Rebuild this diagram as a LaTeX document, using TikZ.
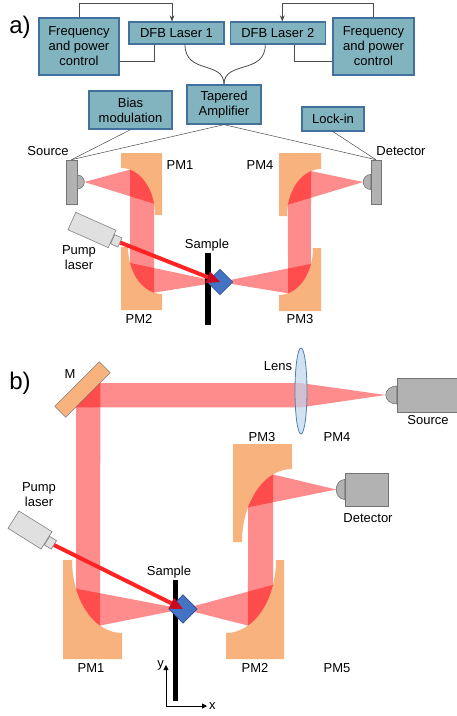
\documentclass[tikz,border=0pt]{standalone}
\usepackage{fontspec}
\setmainfont{Liberation Sans}
\usetikzlibrary{arrows.meta,positioning,calc,shapes.geometric}

\definecolor{boxfill}{RGB}{130,180,192}
\definecolor{boxline}{RGB}{65,113,156}
\definecolor{pmorange}{RGB}{248,178,126}
\definecolor{pumpred}{RGB}{255,35,35}
\definecolor{pumphead}{RGB}{200,10,35}
\definecolor{samplefill}{RGB}{68,114,196}
\definecolor{sampleline}{RGB}{47,82,143}
\definecolor{lensfill}{RGB}{189,215,238}
\definecolor{lensline}{RGB}{80,125,180}

\newcommand{\txtsize}{\fontsize{13}{15}\selectfont}
\newcommand{\bigsize}{\fontsize{24}{28}\selectfont}
% off-axis paraboloid: width, height, x radius, y radius of the cut
\newcommand{\parmirror}[4]{%
  \fill[paraboloid] (0,-#2) -- (#1,-#2) -- (#1,0) -- (#3,0)
    arc[start angle=0, end angle=-90, x radius=#3, y radius=#4] -- cycle;}

\tikzset{
  ctrl/.style       = {rectangle, draw=boxline, fill=boxfill, line width=1.3pt,
                       align=center, inner sep=0pt},
  wire/.style       = {draw=black!70, line width=0.8pt},
  feed/.style       = {wire, -{Stealth[length=6pt,width=5pt]}},
  paraboloid/.style = {fill=pmorange},
  flatmirror/.style = {rectangle, fill=pmorange, draw=black!50, line width=0.6pt},
  devbox/.style     = {rectangle, fill=black!30, draw=black!55, line width=0.6pt},
  pumpbody/.style   = {rectangle, fill=black!12, draw=black!50, line width=0.6pt},
  pumpbeam/.style   = {draw=pumpred, line width=4pt,
                       -{Triangle[length=13pt,width=12pt,line width=0.5pt,color=pumphead]}},
  thzbeam/.style    = {fill=red, fill opacity=0.45},
  holder/.style     = {rectangle, fill=black, inner sep=0pt},
  samplebox/.style  = {rectangle, rotate=45, fill=samplefill, draw=sampleline,
                       line width=0.6pt, inner sep=0pt},
  lensbody/.style   = {ellipse, draw=lensline, fill=lensfill, fill opacity=0.7,
                       line width=0.8pt, inner sep=0pt},
  axisarrow/.style  = {draw=black, line width=0.9pt, -{Triangle[length=5pt,width=5pt]}},
  lbl/.style        = {inner sep=1pt, align=center},
  ellA/.style       = {x radius=34, y radius=47},
  ellB/.style       = {x radius=50, y radius=73},
}

\begin{document}
\begin{tikzpicture}[x=1pt, y=-1pt, font=\txtsize]
    \useasboundingbox (0,0) rectangle (456,716);

    % ================= a) =================
    \node[lbl, font=\bigsize] (tagA) at (20,27) {a)};

    % --- lasers and control
    \node[ctrl, minimum width=80pt, minimum height=57pt] (freqL) at (79,46.5)
      {Frequency\\and power\\control};
    \node[ctrl, minimum width=95pt, minimum height=22pt] (dfb1) at (176.5,33) {DFB Laser 1};
    \node[ctrl, minimum width=95pt, minimum height=22pt, right=5pt of dfb1] (dfb2) {DFB Laser 2};
    \node[ctrl, minimum width=81pt, minimum height=57pt] (freqR) at (373.5,46.5)
      {Frequency\\and power\\control};
    \node[ctrl, minimum width=74pt, minimum height=39pt] (amp) at (224,104.5)
      {Tapered\\Amplifier};
    \node[ctrl, minimum width=83pt, minimum height=38pt] (bias) at (130.5,110)
      {Bias\\modulation};
    \node[ctrl, minimum width=62pt, minimum height=24pt] (lockin) at (333,119) {Lock-in};

    \draw[feed] (freqL.north) -- ++(0,-14) -| ([xshift=-4.5pt]dfb1.north);
    \draw[feed] (freqR.north) -- ++(0,-14) -| ([xshift=4.5pt]dfb2.north);
    \draw[wire] ([yshift=-14.5pt]freqL.east) -| ([xshift=-22.5pt]dfb1.south);
    \draw[wire] ([yshift=-14.5pt]freqR.west) -| ([xshift=16.5pt]dfb2.south);
    % fibres into the amplifier
    \draw[wire] ([xshift=8.5pt]dfb1.south) .. controls +(0,30) and +(0,-24) .. (amp.north);
    \draw[wire] ([xshift=-12.5pt]dfb2.south) .. controls +(0,30) and +(0,-24) .. (amp.north);

    % --- emitter and receiver
    \node[devbox, minimum width=11pt, minimum height=44pt] (srcA) at (71.5,182) {};
    \draw[devbox] (srcA.east) ++(0,-7) arc[start angle=-90, end angle=90, radius=7] -- cycle;
    \coordinate (srcAtip) at ([xshift=7pt]srcA.east);
    \node[devbox, minimum width=10pt, minimum height=44pt] (detA) at (376,182) {};
    \draw[devbox] (detA.west) ++(0,-7.5) arc[start angle=-90, end angle=-270, radius=7.5] -- cycle;
    \coordinate (detAtip) at ([xshift=-7.5pt]detA.west);

    \draw[wire, line width=0.5pt] (amp.south) -- (srcA.north);
    \draw[wire, line width=0.5pt] (amp.south) -- (detA.north);
    \draw[wire, line width=0.5pt] (bias.south) -- (srcA.north);
    \draw[wire, line width=0.5pt] (lockin.south) -- (detA.north);

    % --- paraboloids
    \coordinate (pm1a) at (121,215);
    \coordinate (pm2a) at (162,247);
    \coordinate (pm3a) at (279,248);
    \coordinate (pm4a) at (321,216);
    \begin{scope}[shift={(pm1a)}]            \parmirror{41}{62}{34}{47} \end{scope}
    \begin{scope}[shift={(pm2a)}, rotate=180] \parmirror{41}{63}{34}{47} \end{scope}
    \begin{scope}[shift={(pm3a)}, yscale=-1] \parmirror{42}{63}{34}{47} \end{scope}
    \begin{scope}[shift={(pm4a)}, xscale=-1] \parmirror{42}{63}{34}{47} \end{scope}

    % --- THz beam
    \coordinate (focA) at (220,282);
    \fill[thzbeam] (srcAtip) -- ($(pm1a)+(-74.65:34 and 47)$)
      arc[ellA, start angle=-74.65, end angle=-13.9] -- cycle;
    \fill[thzbeam] ($(pm1a)+(-74.65:34 and 47)$) arc[ellA, start angle=-74.65, end angle=-13.9]
      -- ($(pm2a)+(103.6:34 and 47)$) arc[ellA, start angle=103.6, end angle=160.2] -- cycle;
    \fill[thzbeam] ($(pm2a)+(103.6:34 and 47)$) arc[ellA, start angle=103.6, end angle=160.2]
      -- (focA) -- cycle;
    \fill[thzbeam] (focA) -- ($(pm3a)+(74.65:34 and 47)$)
      arc[ellA, start angle=74.65, end angle=19.8] -- cycle;
    \fill[thzbeam] ($(pm3a)+(74.65:34 and 47)$) arc[ellA, start angle=74.65, end angle=19.8]
      -- ($(pm4a)+(252.9:34 and 47)$) arc[ellA, start angle=252.9, end angle=193.9] -- cycle;
    \fill[thzbeam] ($(pm4a)+(252.9:34 and 47)$) arc[ellA, start angle=252.9, end angle=193.9]
      -- (detAtip) -- cycle;

    % --- sample and pump
    \node[holder, minimum width=5.5pt, minimum height=72pt] (barA) at (208,289) {};
    \node[samplebox, minimum size=18pt] (sampA) at (focA) {};
    \node[pumpbody, rotate=-24, minimum width=44pt, minimum height=19pt] (pumpA) at (92,230) {};
    \node[pumpbody, rotate=-24, minimum width=8pt, minimum height=10pt, anchor=west] (nozA)
      at (pumpA.east) {};
    \draw[pumpbeam] (nozA.east) -- (sampA.center);

    % --- labels
    \node[lbl] (lsrcA) at (48,151) {Source};
    \node[lbl] (ldetA) at (401,151) {Detector};
    \node[lbl] (lpm1a) at (180,165) {PM1};
    \node[lbl] (lpm4a) at (260,165) {PM4};
    \node[lbl] (lpm2a) at (139,319) {PM2};
    \node[lbl] (lpm3a) at (300,319) {PM3};
    \node[lbl] (lsamA) at (207,245) {Sample};
    \node[lbl] (lpumpA) at (79,258) {Pump\\laser};

    % ================= b) =================
    \node[lbl, font=\bigsize] (tagB) at (20,383) {b)};

    % --- folding mirror and lens
    \node[flatmirror, rotate=45, minimum width=63pt, minimum height=15.6pt] (mirM) at (82.5,389.5) {};
    \coordinate (mA) at ($(mirM.south west)!0.77!(mirM.south east)$);
    \coordinate (mB) at ($(mirM.south west)!0.23!(mirM.south east)$);

    \node[devbox, minimum width=65pt, minimum height=34pt] (srcB) at (429.5,395) {};
    \draw[devbox] (srcB.west) ++(0,-9) arc[start angle=-90, end angle=-270, x radius=11, y radius=9] -- cycle;
    \coordinate (srcBtip) at ([xshift=-11pt]srcB.west);
    \node[devbox, minimum width=43pt, minimum height=33pt] (detB) at (366.5,489.5) {};
    \draw[devbox] (detB.west) ++(0,-10) arc[start angle=-90, end angle=-270, x radius=8.5, y radius=10] -- cycle;
    \coordinate (detBtip) at ([xshift=-8.5pt]detB.west);

    % --- paraboloids
    \coordinate (pm1b) at (122,560);
    \coordinate (pm2b) at (226,560);
    \coordinate (pm3b) at (292,542);
    \begin{scope}[shift={(pm1b)}, rotate=180] \parmirror{59}{99}{50}{73} \end{scope}
    \begin{scope}[shift={(pm2b)}, yscale=-1] \parmirror{58}{99}{50}{73} \end{scope}
    \begin{scope}[shift={(pm3b)}, xscale=-1] \parmirror{59}{98}{50}{73} \end{scope}

    % --- THz beam
    \coordinate (focB) at (183,609);
    \coordinate (lensC) at (301,391);
    \fill[thzbeam] (mA) -- (mA -| lensC) -- (mB -| lensC) -- (mB) -- cycle;
    \fill[thzbeam] (mA -| lensC) -- (srcBtip) -- (mB -| lensC) -- cycle;
    \fill[thzbeam] (mA) -- ($(pm1b)+(116.1:50 and 73)$) arc[ellB, start angle=116.1, end angle=156.9]
      -- (mB) -- cycle;
    \fill[thzbeam] ($(pm1b)+(116.1:50 and 73)$) arc[ellB, start angle=116.1, end angle=156.9]
      -- (focB) -- cycle;
    \fill[thzbeam] (focB) -- ($(pm2b)+(63.9:50 and 73)$)
      arc[ellB, start angle=63.9, end angle=19.95] -- cycle;
    \fill[thzbeam] ($(pm2b)+(63.9:50 and 73)$) arc[ellB, start angle=63.9, end angle=19.95]
      -- ($(pm3b)+(247.67:50 and 73)$) arc[ellB, start angle=247.67, end angle=208.36] -- cycle;
    \fill[thzbeam] ($(pm3b)+(247.67:50 and 73)$) arc[ellB, start angle=247.67, end angle=208.36]
      -- (detBtip) -- cycle;

    \node[lensbody, minimum width=12pt, minimum height=86pt] (lens) at (lensC) {};

    % --- sample and pump
    \node[holder, minimum width=5pt, minimum height=121pt] (barB) at (175,640.5) {};
    \node[samplebox, minimum size=20pt] (sampB) at (focB) {};
    \node[pumpbody, rotate=-32, minimum width=39pt, minimum height=20.5pt] (pumpB) at (30,530) {};
    \node[pumpbody, rotate=-32, minimum width=8pt, minimum height=10pt, anchor=west] (nozB)
      at (pumpB.east) {};
    \draw[pumpbeam] (nozB.east) -- (sampB.center);

    % --- axes
    \coordinate (orig) at (166,706);
    \coordinate (yax) at (166,665);
    \coordinate (xax) at (207,706);
    \draw[axisarrow] (orig) -- (yax);
    \draw[axisarrow] (orig) -- (xax);
    \node[lbl, left=1pt of yax] (ylab) {y};
    \node[lbl, right=1pt of xax] (xlab) {x};

    % --- labels
    \node[lbl] (lM) at (70,374) {M};
    \node[lbl] (llens) at (278,366) {Lens};
    \node[lbl] (lsrcB) at (428,420) {Source};
    \node[lbl] (lpm3b) at (262,437) {PM3};
    \node[lbl] (lpm4b) at (337,437) {PM4};
    \node[lbl] (ldetB) at (368,518) {Detector};
    \node[lbl] (lpumpB) at (39,495) {Pump\\laser};
    \node[lbl] (lsamB) at (169,572) {Sample};
    \node[lbl] (lpm1b) at (91,668) {PM1};
    \node[lbl] (lpm2b) at (255,668) {PM2};
    \node[lbl] (lpm5b) at (337,668) {PM5};
\end{tikzpicture}
\end{document}
